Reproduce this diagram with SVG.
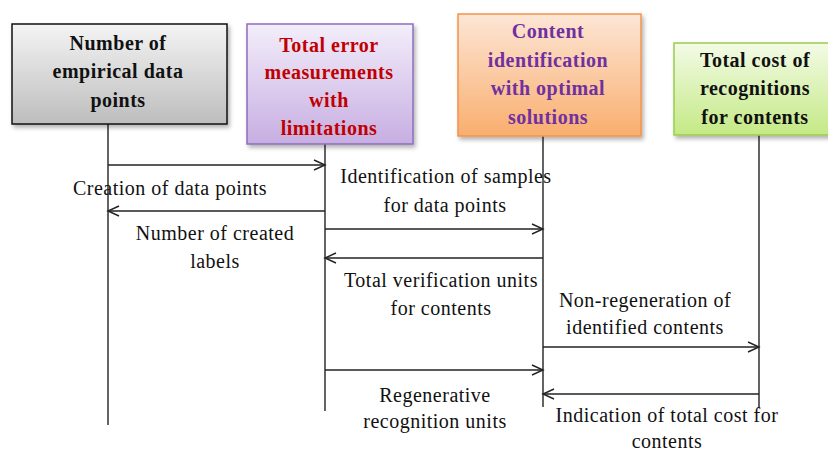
<svg xmlns="http://www.w3.org/2000/svg" width="828" height="451" viewBox="0 0 828 451">
<defs>
<linearGradient id="gGray" x1="0" y1="0" x2="0" y2="1"><stop offset="0" stop-color="#f4f4f4"/><stop offset="1" stop-color="#bdbdbd"/></linearGradient>
<linearGradient id="gPurple" x1="0" y1="0" x2="0" y2="1"><stop offset="0" stop-color="#f3eefa"/><stop offset="1" stop-color="#c7aee2"/></linearGradient>
<linearGradient id="gOrange" x1="0" y1="0" x2="0" y2="1"><stop offset="0" stop-color="#fde6d6"/><stop offset="1" stop-color="#f9ae6e"/></linearGradient>
<linearGradient id="gGreen" x1="0" y1="0" x2="0" y2="1"><stop offset="0" stop-color="#f3fbe6"/><stop offset="1" stop-color="#c4e985"/></linearGradient>
<filter id="sh" x="-10%" y="-10%" width="130%" height="130%"><feDropShadow dx="2" dy="3" stdDeviation="2" flood-color="#000" flood-opacity="0.3"/></filter>
<marker id="ah" markerWidth="14" markerHeight="12" refX="12" refY="6" orient="auto" markerUnits="userSpaceOnUse"><path d="M1,1 L12,6 L1,11" fill="none" stroke="#222" stroke-width="1.4"/></marker>
</defs>
<style>
.t{font-family:"Liberation Serif","Times New Roman",serif;font-weight:bold;font-size:20px;text-anchor:middle;letter-spacing:0.5px}
.l{font-family:"Liberation Serif","Times New Roman",serif;font-size:20px;text-anchor:middle;fill:#111;letter-spacing:0.5px}
.ll{stroke:#222;stroke-width:1.4;fill:none}
.ar{stroke:#222;stroke-width:1.4;fill:none;marker-end:url(#ah)}
</style>
<rect width="828" height="451" fill="#fff"/>
<g id="lifelines">
<line class="ll" x1="108" y1="124" x2="108" y2="425"/>
<line class="ll" x1="325" y1="144" x2="325" y2="411"/>
<line class="ll" x1="543" y1="136" x2="543" y2="407"/>
<line class="ll" x1="759" y1="135" x2="759" y2="407"/>
</g>
<g id="node1">
<rect x="12" y="24" width="215" height="100" fill="url(#gGray)" stroke="#111" stroke-width="1.5" filter="url(#sh)"/>
<text class="t" fill="#111"><tspan x="118" y="50">Number of</tspan><tspan x="118" y="78">empirical data</tspan><tspan x="118" y="107">points</tspan></text>
</g>
<g id="node2">
<rect x="247" y="24" width="166" height="120" fill="url(#gPurple)" stroke="#8e6cbf" stroke-width="1.5" filter="url(#sh)"/>
<text class="t" fill="#c00000"><tspan x="329" y="52">Total error</tspan><tspan x="329" y="79">measurements</tspan><tspan x="329" y="107">with</tspan><tspan x="329" y="135">limitations</tspan></text>
</g>
<g id="node3">
<rect x="458" y="14" width="183" height="122" fill="url(#gOrange)" stroke="#f4934a" stroke-width="1.5" filter="url(#sh)"/>
<text class="t" fill="#7030a0"><tspan x="548" y="38">Content</tspan><tspan x="548" y="67">identification</tspan><tspan x="548" y="95">with optimal</tspan><tspan x="548" y="124">solutions</tspan></text>
</g>
<g id="node4">
<rect x="674" y="43" width="160" height="92" fill="url(#gGreen)" stroke="#9acd4c" stroke-width="1.5" filter="url(#sh)"/>
<text class="t" fill="#111"><tspan x="755" y="67">Total cost of</tspan><tspan x="755" y="95">recognitions</tspan><tspan x="755" y="124">for contents</tspan></text>
</g>
<g id="connectors">
<line class="ar" x1="108" y1="165" x2="325" y2="165"/>
<line class="ar" x1="325" y1="211" x2="108" y2="211"/>
<line class="ar" x1="325" y1="229" x2="543" y2="229"/>
<line class="ar" x1="543" y1="258" x2="325" y2="258"/>
<line class="ar" x1="543" y1="347" x2="759" y2="347"/>
<line class="ar" x1="325" y1="370" x2="543" y2="370"/>
<line class="ar" x1="759" y1="394" x2="543" y2="394"/>
<text class="l" x="170" y="195">Creation of data points</text>
<text class="l"><tspan x="215" y="240">Number of created</tspan><tspan x="215" y="268">labels</tspan></text>
<text class="l"><tspan x="446" y="183">Identification of samples</tspan><tspan x="445" y="212">for data points</tspan></text>
<text class="l"><tspan x="441" y="287">Total verification units</tspan><tspan x="441" y="315">for contents</tspan></text>
<text class="l"><tspan x="645" y="307">Non-regeneration of</tspan><tspan x="645" y="334">identified contents</tspan></text>
<text class="l"><tspan x="435" y="402">Regenerative</tspan><tspan x="435" y="428">recognition units</tspan></text>
<text class="l"><tspan x="667" y="422">Indication of total cost for</tspan><tspan x="667" y="448">contents</tspan></text>
</g>
</svg>
